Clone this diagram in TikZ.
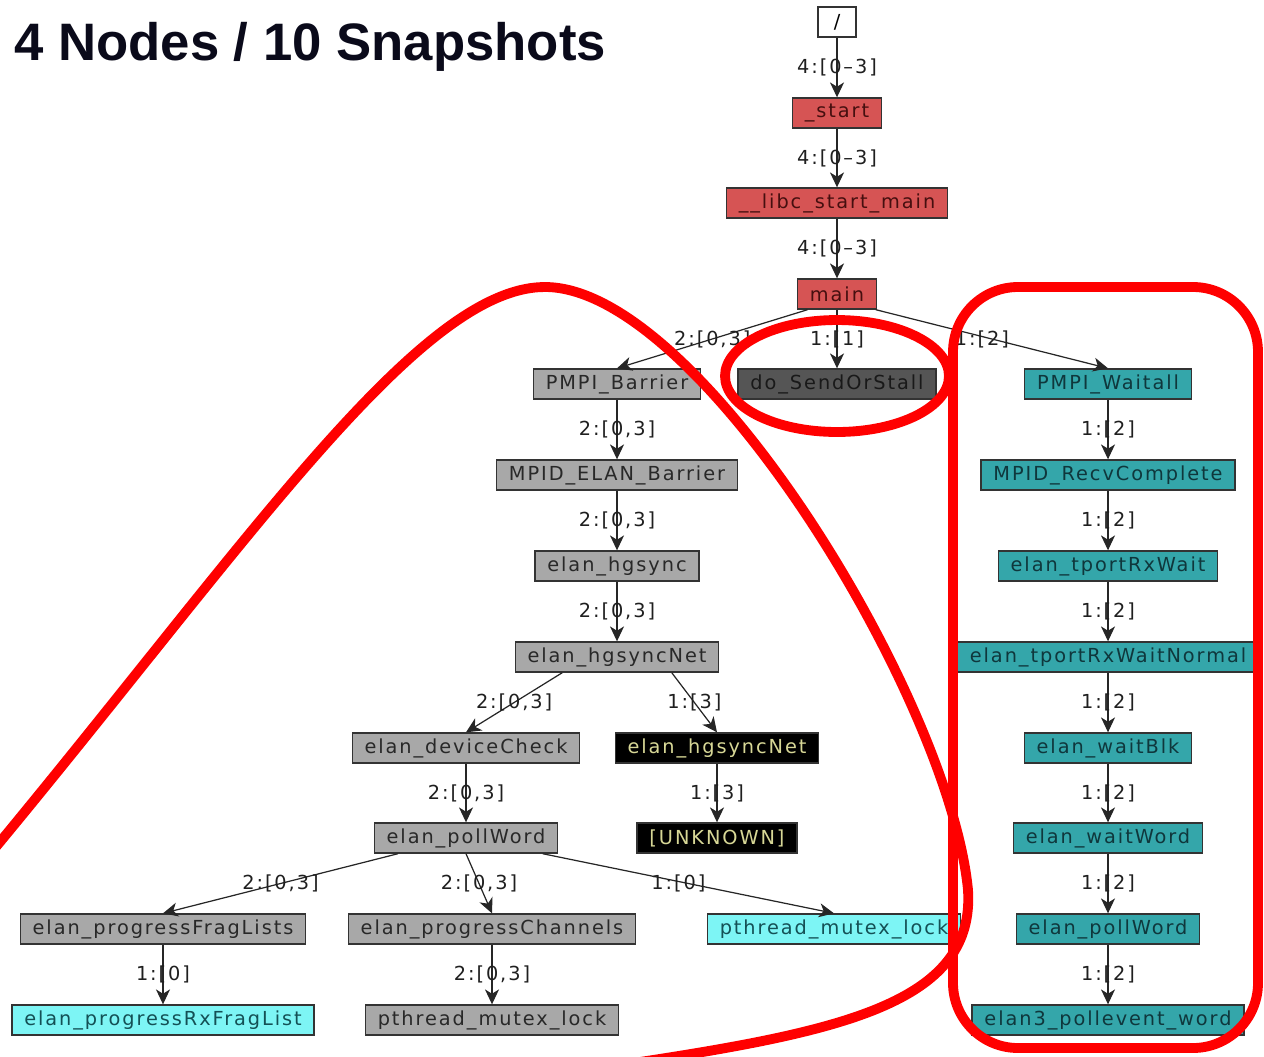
\documentclass[tikz,border=0pt]{standalone}
\usepackage{fontspec}
\setmainfont{Liberation Sans}
\newfontfamily\dvfont[LetterSpace=10]{DejaVu Sans}
\usetikzlibrary{arrows.meta}
\definecolor{fnred}{RGB}{214,84,84}
\definecolor{fnredtext}{RGB}{70,15,15}
\definecolor{fngray}{RGB}{168,168,168}
\definecolor{fngraytext}{RGB}{40,40,40}
\definecolor{fndark}{RGB}{85,85,85}
\definecolor{fndarktext}{RGB}{25,25,25}
\definecolor{fnteal}{RGB}{52,166,170}
\definecolor{fntealtext}{RGB}{15,55,60}
\definecolor{fncyan}{RGB}{125,245,245}
\definecolor{fncyantext}{RGB}{20,80,85}
\definecolor{fnblacktext}{RGB}{215,215,150}
\definecolor{titletext}{RGB}{10,10,26}
\tikzstyle{fn}=[rectangle, draw=black!80, line width=0.8pt, minimum height=0.6cm, inner xsep=7pt, inner ysep=0pt, font=\dvfont\fontsize{11}{13}\selectfont]
\tikzstyle{rootfn}=[fn, fill=white, minimum width=0.76cm]
\tikzstyle{hotfn}=[fn, fill=fnred, text=fnredtext]
\tikzstyle{grayfn}=[fn, fill=fngray, text=fngraytext]
\tikzstyle{darkfn}=[fn, fill=fndark, text=fndarktext]
\tikzstyle{tealfn}=[fn, fill=fnteal, text=fntealtext]
\tikzstyle{cyanfn}=[fn, fill=fncyan, text=fncyantext]
\tikzstyle{blackfn}=[fn, fill=black, text=fnblacktext]
\tikzstyle{call}=[-{Stealth[length=8.5pt,width=8pt,inset=2.5pt]}, line width=0.7pt, color=black!85]
\tikzstyle{lbl}=[inner sep=0pt, text=black!88, font=\dvfont\fontsize{11}{13}\selectfont]
\tikzstyle{redmark}=[draw=red, line width=5.6pt]

\begin{document}
\begin{tikzpicture}[x=0.02cm, y=-0.02cm]
    \useasboundingbox (0,0) rectangle (1264,1056);
    \node[anchor=base west, inner sep=0pt, text=titletext, font=\bfseries\fontsize{30}{36}\selectfont] (title) at (14,60) {4 Nodes / 10 Snapshots};

    % main trunk
    \node[rootfn] (root) at (837,22) {/};
    \node[hotfn] (start) at (837,113) {\_start};
    \node[hotfn] (libc) at (837,203) {\_\_libc\_start\_main};
    \node[hotfn] (main) at (837,294) {main};

    % barrier branch
    \node[grayfn] (barrier) at (617,384) {PMPI\_Barrier};
    \node[darkfn] (sendstall) at (837,384) {do\_SendOrStall};
    \node[grayfn] (elanbar) at (617,475) {MPID\_ELAN\_Barrier};
    \node[grayfn] (hgsync) at (617,566) {elan\_hgsync};
    \node[grayfn] (hgnet) at (617,657) {elan\_hgsyncNet};
    \node[grayfn] (devcheck) at (466,748) {elan\_deviceCheck};
    \node[blackfn] (hgnetb) at (717,748) {elan\_hgsyncNet};
    \node[grayfn] (pollword) at (466,838) {elan\_pollWord};
    \node[blackfn] (unknown) at (717,838) {[UNKNOWN]};
    \node[grayfn] (fraglists) at (163,929) {elan\_progressFragLists};
    \node[grayfn] (channels) at (492,929) {elan\_progressChannels};
    \node[cyanfn] (mutexa) at (834,929) {pthread\_mutex\_lock};
    \node[cyanfn] (rxfrag) at (163,1020) {elan\_progressRxFragList};
    \node[grayfn] (mutexb) at (492,1020) {pthread\_mutex\_lock};

    % waitall branch
    \node[tealfn] (waitall) at (1108,384) {PMPI\_Waitall};
    \node[tealfn] (recvc) at (1108,475) {MPID\_RecvComplete};
    \node[tealfn] (rxwait) at (1108,566) {elan\_tportRxWait};
    \node[tealfn] (rxnormal) at (1108,657) {elan\_tportRxWaitNormal};
    \node[tealfn] (waitblk) at (1108,748) {elan\_waitBlk};
    \node[tealfn] (waitword) at (1108,838) {elan\_waitWord};
    \node[tealfn] (pollwordb) at (1108,929) {elan\_pollWord};
    \node[tealfn] (pollevent) at (1108,1020) {elan3\_pollevent\_word};

    \path[call]
        (root) edge node[lbl] (l1) {4:[0–3]} (start)
        (start) edge node[lbl] (l2) {4:[0–3]} (libc)
        (libc) edge node[lbl] (l3) {4:[0–3]} (main)
        (main.-152) edge node[lbl] (l4) {2:[0,3]} (barrier.north)
        (main) edge node[lbl] (l5) {1:[1]} (sendstall)
        (main.-22) edge node[lbl, xshift=-0.2cm] (l6) {1:[2]} (waitall.north)
        (barrier) edge node[lbl] (l7) {2:[0,3]} (elanbar)
        (elanbar) edge node[lbl] (l8) {2:[0,3]} (hgsync)
        (hgsync) edge node[lbl] (l9) {2:[0,3]} (hgnet)
        (hgnet.-164) edge node[lbl] (l10) {2:[0,3]} (devcheck.north)
        (hgnet.-16) edge node[lbl] (l11) {1:[3]} (hgnetb.north)
        (devcheck) edge node[lbl] (l12) {2:[0,3]} (pollword)
        (hgnetb) edge node[lbl] (l13) {1:[3]} (unknown)
        (pollword.-167) edge node[lbl] (l14) {2:[0,3]} (fraglists.north)
        (pollword.south) edge node[lbl] (l15) {2:[0,3]} (channels.north)
        (pollword) edge node[lbl, xshift=-0.2cm] (l16) {1:[0]} (mutexa.north)
        (fraglists) edge node[lbl] (l17) {1:[0]} (rxfrag)
        (channels) edge node[lbl] (l18) {2:[0,3]} (mutexb)
        (waitall) edge node[lbl] (l19) {1:[2]} (recvc)
        (recvc) edge node[lbl] (l20) {1:[2]} (rxwait)
        (rxwait) edge node[lbl] (l21) {1:[2]} (rxnormal)
        (rxnormal) edge node[lbl] (l22) {1:[2]} (waitblk)
        (waitblk) edge node[lbl] (l23) {1:[2]} (waitword)
        (waitword) edge node[lbl] (l24) {1:[2]} (pollwordb)
        (pollwordb) edge node[lbl] (l25) {1:[2]} (pollevent)
    ;

    % red marks drawn on top
    \draw[redmark] (-5,848) .. controls (250,540) and (420,287) .. (545,287)
        .. controls (700,287) and (950,700) .. (968,890)
        .. controls (975,1000) and (850,1030) .. (640,1062);
    \draw[redmark] (837,376) ellipse [x radius=2.24cm, y radius=1.12cm];
    \draw[redmark, rounded corners=1.3cm] (953,287) rectangle (1258,1048);
\end{tikzpicture}
\end{document}
